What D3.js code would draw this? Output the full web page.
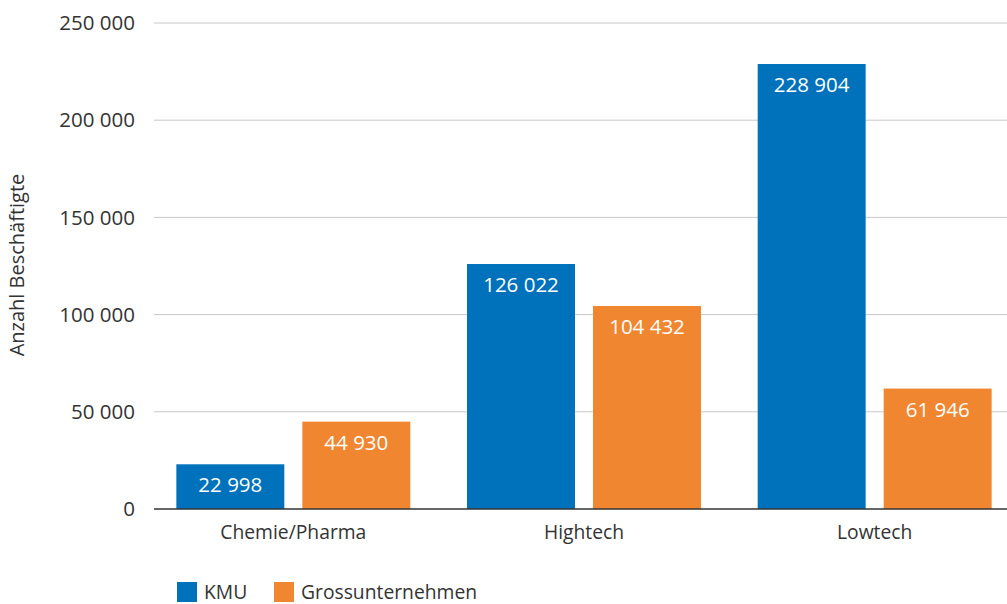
<!DOCTYPE html>
<html>
<head>
<meta charset="utf-8">
<script src="https://cdn.jsdelivr.net/npm/d3@7"></script>
<style>
  body { margin: 0; background: #fff; }
  svg { font-family: "Open Sans", "Noto Sans", sans-serif; }
</style>
</head>
<body>
<script>
// data
const categories = ["Chemie/Pharma", "Hightech", "Lowtech"];
const series = ["KMU", "Grossunternehmen"];
const kmu = [22998, 126022, 228904];
const gross = [44930, 104432, 61946];
const yTicks = [0, 50000, 100000, 150000, 200000, 250000];
const colors = ["#0072bc", "#f08630"];

const width = 1007, height = 604;
const margin = {top: 23, right: 0, bottom: 95, left: 154};

const loc = d3.formatLocale({decimal: ",", thousands: " ", grouping: [3], currency: ["", ""]});
const fmt = loc.format(",d");

const svg = d3.select("body").append("svg")
  .attr("width", width)
  .attr("height", height);

const y = d3.scaleLinear()
  .domain([0, 250000])
  .range([height - margin.bottom, margin.top]);

// groups
const x0 = d3.scaleBand()
  .domain(categories)
  .range([148, 1020])
  .padding(0);

const x1 = d3.scaleBand()
  .domain(series)
  .range([0, x0.bandwidth()])
  .paddingInner(0.143)
  .paddingOuter(0.225);

// grid
svg.append("g")
  .selectAll("line")
  .data(yTicks.filter(d => d > 0))
  .join("line")
  .attr("x1", margin.left)
  .attr("x2", width)
  .attr("y1", d => y(d))
  .attr("y2", d => y(d))
  .attr("stroke", "#c8c8c8")
  .attr("stroke-width", 1);

svg.append("g")
  .selectAll("text")
  .data(yTicks)
  .join("text")
  .attr("x", 135)
  .attr("y", d => y(d))
  .attr("dy", "0.35em")
  .attr("text-anchor", "end")
  .attr("font-size", 20.5)
  .attr("fill", "#333")
  .text(d => fmt(d));

// axis title
svg.append("text")
  .attr("transform", "translate(24," + 265 + ") rotate(-90)")
  .attr("text-anchor", "middle")
  .attr("font-size", 20)
  .attr("fill", "#333")
  .text("Anzahl Beschäftigte");

const rows = categories.map((c, i) => ({cat: c, vals: [kmu[i], gross[i]]}));

const grp = svg.append("g")
  .selectAll("g")
  .data(rows)
  .join("g")
  .attr("transform", d => "translate(" + x0(d.cat) + ",0)");

const cells = grp.selectAll("g")
  .data(d => d.vals.map((v, j) => ({s: series[j], v: v, j: j})))
  .join("g");

cells.append("rect")
  .attr("x", d => x1(d.s))
  .attr("width", x1.bandwidth())
  .attr("y", d => y(d.v))
  .attr("height", d => y(0) - y(d.v))
  .attr("fill", d => colors[d.j]);

cells.append("text")
  .attr("x", d => x1(d.s) + x1.bandwidth() / 2)
  .attr("y", d => y(d.v) + 28)
  .attr("text-anchor", "middle")
  .attr("font-size", 20.5)
  .attr("fill", "#fff")
  .text(d => fmt(d.v));

// zero line
svg.append("line")
  .attr("x1", margin.left)
  .attr("x2", width)
  .attr("y1", y(0))
  .attr("y2", y(0))
  .attr("stroke", "#333")
  .attr("stroke-width", 1.5);

// category labels
svg.append("g")
  .selectAll("text")
  .data(categories)
  .join("text")
  .attr("x", d => x0(d) + x0.bandwidth() / 2)
  .attr("y", y(0) + 30)
  .attr("text-anchor", "middle")
  .attr("font-size", 19.3)
  .attr("fill", "#333")
  .text(d => d);

// legend
const leg = svg.append("g").attr("transform", "translate(177,582)");
const legX = [0, 97];
series.forEach(function(s, i) {
  leg.append("rect")
    .attr("x", legX[i])
    .attr("y", 0)
    .attr("width", 20)
    .attr("height", 20)
    .attr("fill", colors[i]);
  leg.append("text")
    .attr("x", legX[i] + 27)
    .attr("y", 10)
    .attr("dy", "0.38em")
    .attr("font-size", 19.3)
    .attr("fill", "#333")
    .text(s);
});
</script>
</body>
</html>
